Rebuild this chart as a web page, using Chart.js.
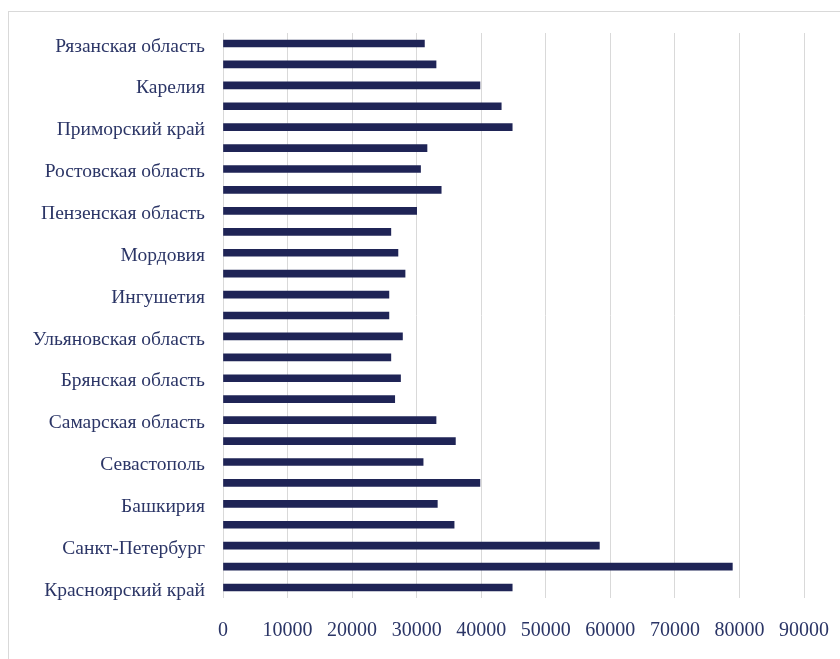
<!DOCTYPE html>
<html>
<head>
<meta charset="utf-8">
<script src="https://cdn.jsdelivr.net/npm/chart.js@4.4.1/dist/chart.umd.min.js"></script>
<style>
  html, body { margin: 0; padding: 0; background: #fff; }
  #wrap { position: relative; width: 840px; height: 659px; overflow: hidden; }
  #frame { position: absolute; left: 8px; top: 11px; width: 900px; height: 700px; border: 1px solid #d9d9d9; box-sizing: border-box; }
  canvas { position: absolute; left: 0; top: 0; }
</style>
</head>
<body>
<div id="wrap">
  <div id="frame"></div>
  <canvas id="chart" width="840" height="659"></canvas>
</div>
<script>
// regions top to bottom; every other label is left blank on the axis
const regions = [
  'Рязанская область', '',
  'Карелия', '',
  'Приморский край', '',
  'Ростовская область', '',
  'Пензенская область', '',
  'Мордовия', '',
  'Ингушетия', '',
  'Ульяновская область', '',
  'Брянская область', '',
  'Самарская область', '',
  'Севастополь', '',
  'Башкирия', '',
  'Санкт-Петербург', '',
  'Красноярский край'
];

const values = [
  31200, 33000, 39800, 43100, 44800, 31600, 30600, 33800, 30000,
  26000, 27100, 28200, 25700, 25700, 27800, 26000, 27500, 26600,
  33000, 36000, 31000, 39800, 33200, 35800, 58300, 78900, 44800
];

const xTicks = [0, 10000, 20000, 30000, 40000, 50000, 60000, 70000, 80000, 90000];

const navy = '#1f2456';
const textColor = '#2b3566';
const gridColor = '#d9d9d9';

new Chart(document.getElementById('chart'), {
  type: 'bar',
  data: {
    labels: regions,
    datasets: [{
      data: values,
      backgroundColor: navy,
      borderWidth: 0,
      barThickness: 7
    }]
  },
  options: {
    indexAxis: 'y',
    responsive: false,
    animation: false,
    layout: { padding: { top: 33, right: 36, left: 0, bottom: 0 } },
    plugins: {
      legend: { display: false },
      tooltip: { enabled: false }
    },
    scales: {
      x: {
        min: xTicks[0],
        max: xTicks[xTicks.length - 1],
        afterBuildTicks: (scale) => { scale.ticks = xTicks.map(v => ({ value: v })); },
        afterFit: (scale) => {
          scale.height = 61;
          scale.paddingLeft = 0;
          scale.paddingRight = 0;
        },
        border: { display: false },
        grid: { color: gridColor, lineWidth: 1, drawTicks: false },
        ticks: {
          padding: 21,
          color: textColor,
          font: { family: 'Liberation Serif', size: 20 },
          callback: (v) => String(v)
        }
      },
      y: {
        afterFit: (scale) => { scale.width = 223; },
        border: { display: false },
        grid: { display: false },
        ticks: {
          autoSkip: false,
          padding: 10,
          labelOffset: 3,
          color: textColor,
          font: { family: 'Liberation Serif', size: 19.5 }
        }
      }
    }
  }
});
</script>
</body>
</html>
